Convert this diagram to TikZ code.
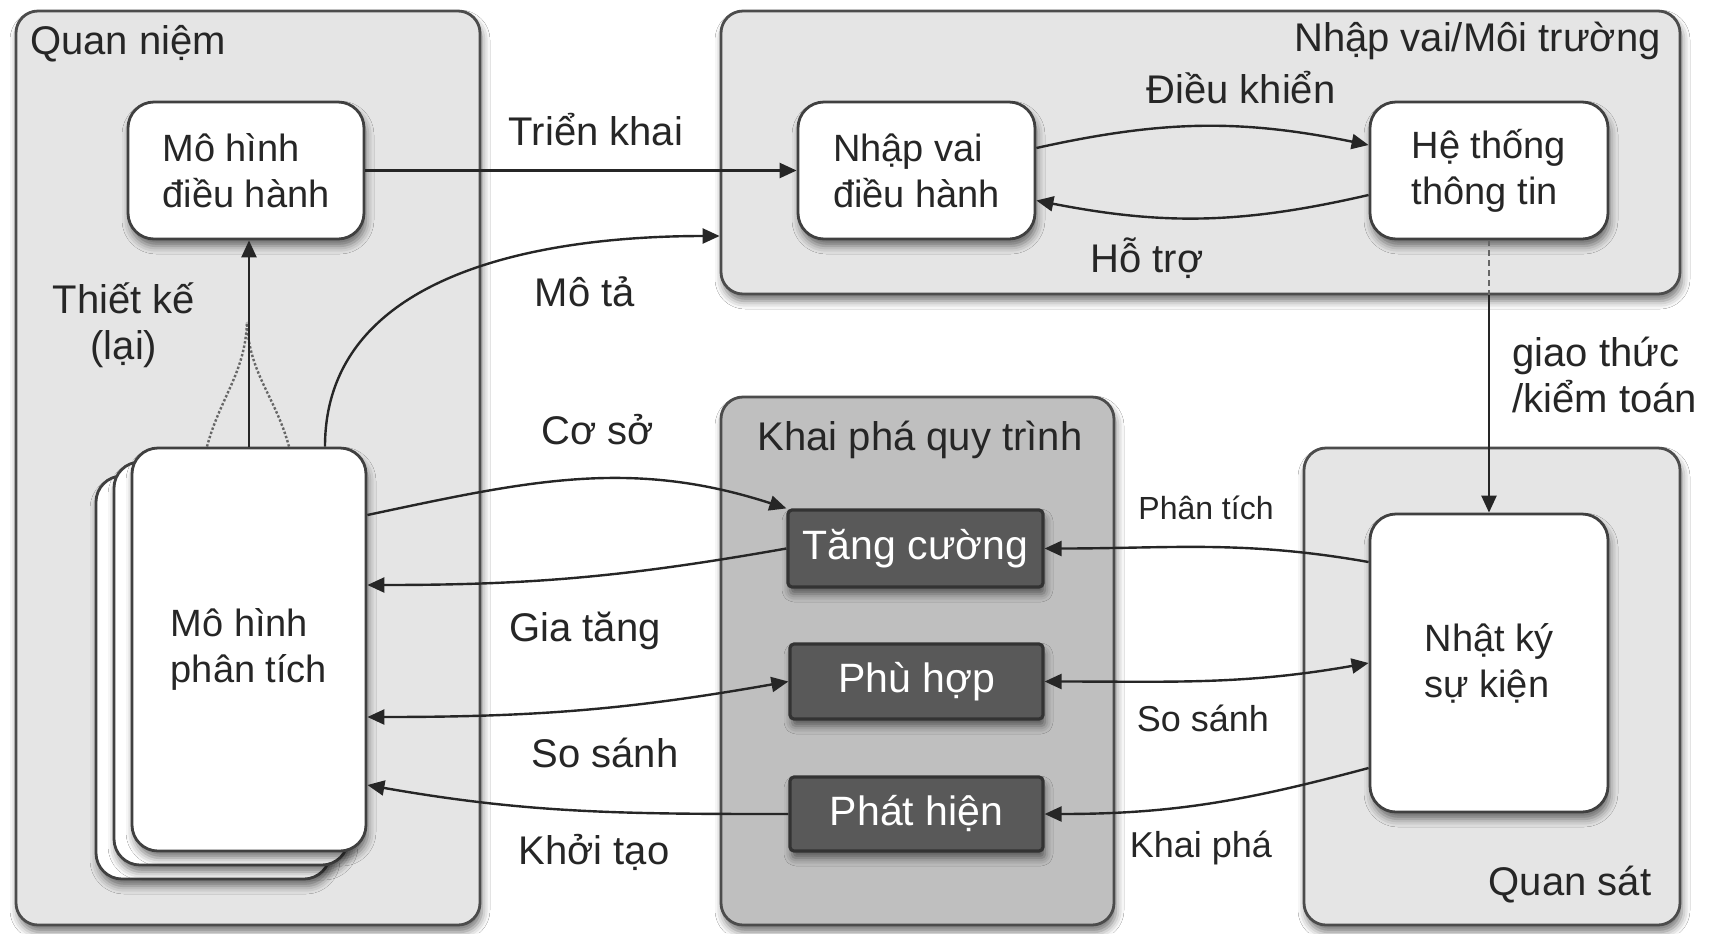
\documentclass[tikz,border=0pt]{standalone}
\usepackage{fontspec}
\setmainfont{Liberation Sans}
\usetikzlibrary{arrows.meta,shadows.blur,calc}
\begin{document}
\begin{tikzpicture}[x=0.5pt,y=-0.5pt,
  every node/.style={font=\fontsize{20}{23}\selectfont, text=black!85},
  shad/.style={blur shadow={shadow xshift=1pt, shadow yshift=-3.5pt, shadow blur radius=4pt, shadow opacity=55}},
  cont/.style={draw=black!70, line width=1.4pt, rounded corners=11pt, fill=black!10, inner sep=0pt, shad},
  wbox/.style={draw=black!75, line width=1.4pt, fill=white, rounded corners=13pt, align=left, inner sep=0pt, shad, font=\fontsize{19}{23}\selectfont},
  dbox/.style={draw=black!80, line width=1.6pt, fill=black!65, text=white, rounded corners=2pt, inner sep=0pt, shad, font=\fontsize{20.5}{24}\selectfont},
  lbl/.style={inner sep=0pt},
  rlbl/.style={inner sep=0pt, font=\fontsize{18}{21}\selectfont},
  arr/.style={-{Triangle[length=8.5pt,width=7.5pt]}, line width=1.2pt, draw=black!85},
  arr2/.style={{Triangle[length=8.5pt,width=7.5pt]}-{Triangle[length=8.5pt,width=7.5pt]}, line width=1.2pt, draw=black!85}
]
\useasboundingbox[fill=white] (0,0) rectangle (1721,933);

% containers
\node[cont, minimum width=232pt, minimum height=457pt] (qn) at (248,468) {};
\node[cont, minimum width=479.5pt, minimum height=141.5pt] (env) at (1200.5,152.5) {};
\node[cont, fill=black!25, minimum width=196.5pt, minimum height=264pt] (pm) at (917.5,661) {};
\node[cont, minimum width=188pt, minimum height=238.5pt] (obs) at (1492,686.5) {};

% white boxes
\node[wbox, minimum width=118pt, minimum height=68.5pt] (ops) at (246,170.5) {Mô hình\\điều hành};
\node[wbox, minimum width=117pt, minimum height=201.5pt] (anal3) at (213,677.5) {};
\node[wbox, minimum width=117pt, minimum height=201.5pt] (anal2) at (231,663.5) {};
\node[wbox, minimum width=117pt, minimum height=201.5pt] (anal) at (249,649.5) {Mô hình\\phân tích};
\node[wbox, minimum width=118.5pt, minimum height=68.5pt] (role) at (916.5,170.5) {Nhập vai\\điều hành};
\node[wbox, minimum width=119pt, minimum height=68.5pt] (is) at (1489,170.5) {Hệ thống\\thông tin};
\node[wbox, minimum width=119pt, minimum height=149pt] (log) at (1489,663) {Nhật ký\\sự kiện};

% dark boxes
\node[dbox, minimum width=127.5pt, minimum height=38.5pt] (enh) at (915.5,548.5) {Tăng cường};
\node[dbox, minimum width=126.5pt, minimum height=37.5pt] (conf) at (916.5,681.5) {Phù hợp};
\node[dbox, minimum width=126.5pt, minimum height=37pt] (disc) at (916.5,814) {Phát hiện};

% labels
\node[lbl, anchor=west] (tqn) at (30,44) {Quan niệm};
\node[lbl, anchor=east] (tenv) at (1661,41) {Nhập vai/Môi trường};
\node[lbl] (tdk) at (1241,88) {Điều khiển};
\node[lbl] (tht) at (1147,258) {Hỗ trợ};
\node[lbl] (ttk) at (596,130) {Triển khai};
\node[lbl] (tmt) at (585,292) {Mô tả};
\node[lbl, align=center] (ttke) at (124,325) {Thiết kế\\(lại)};
\node[lbl, align=left, anchor=west] (tgt) at (1512,375) {giao thức\\/kiểm toán};
\node[lbl] (tcs) at (598,430) {Cơ sở};
\node[lbl] (tpm) at (920,440) {Khai phá quy trình};
\node[rlbl, font=\fontsize{16}{19}\selectfont] (tpt) at (1206,508) {Phân tích};
\node[lbl] (tgta) at (585,631) {Gia tăng};
\node[lbl] (tss1) at (605,753) {So sánh};
\node[rlbl] (tss2) at (1203,718) {So sánh};
\node[lbl] (tkt) at (594,852) {Khởi tạo};
\node[rlbl] (tkp) at (1201,848) {Khai phá};
\node[lbl] (tqs) at (1570,885) {Quan sát};

% connectors
\draw[arr] (ops.east) -- (role.west);
\draw[arr] ([xshift=38pt]anal.north) to[out=90,in=180] ([yshift=-41.75pt]env.west);
\coordinate (dt) at (247,322);
\draw[densely dotted, line width=1.2pt, black!60] ([xshift=-21pt]anal.north) to[out=75,in=-92] (dt);
\draw[densely dotted, line width=1.2pt, black!60] ([xshift=20pt]anal.north) to[out=105,in=-88] (dt);
\draw[arr] (anal.north) -- (anal.north |- ops.south);
\draw[arr] ([yshift=11.25pt]role.east) to[bend left=12] ([yshift=12.75pt]is.west);
\draw[arr] ([yshift=-12.25pt]is.west) to[bend left=12] ([yshift=-15pt]role.east);
\coordinate (eb) at (is.south |- env.south);
\draw[densely dashed, line width=0.9pt, black!60] (is.south) -- (eb);
\draw[arr] (eb) -- (log.north);
\draw[arr] ([yshift=67.25pt]anal.east) to[out=12,in=162] (enh.north west);
\draw[arr] (enh.west) to[out=190,in=0] ([yshift=32.25pt]anal.east);
\draw[arr] ([yshift=50.5pt]log.west) to[out=170,in=0] (enh.east);
\draw[arr2] ([yshift=-33.75pt]anal.east) to[out=0,in=190] (conf.west);
\draw[arr2] (conf.east) to[out=0,in=190] (log.west);
\draw[arr] (disc.west) to[out=180,in=-10] ([yshift=-67.75pt]anal.east);
\draw[arr] ([yshift=-52.5pt]log.west) to[out=195,in=0] (disc.east);
\end{tikzpicture}
\end{document}
